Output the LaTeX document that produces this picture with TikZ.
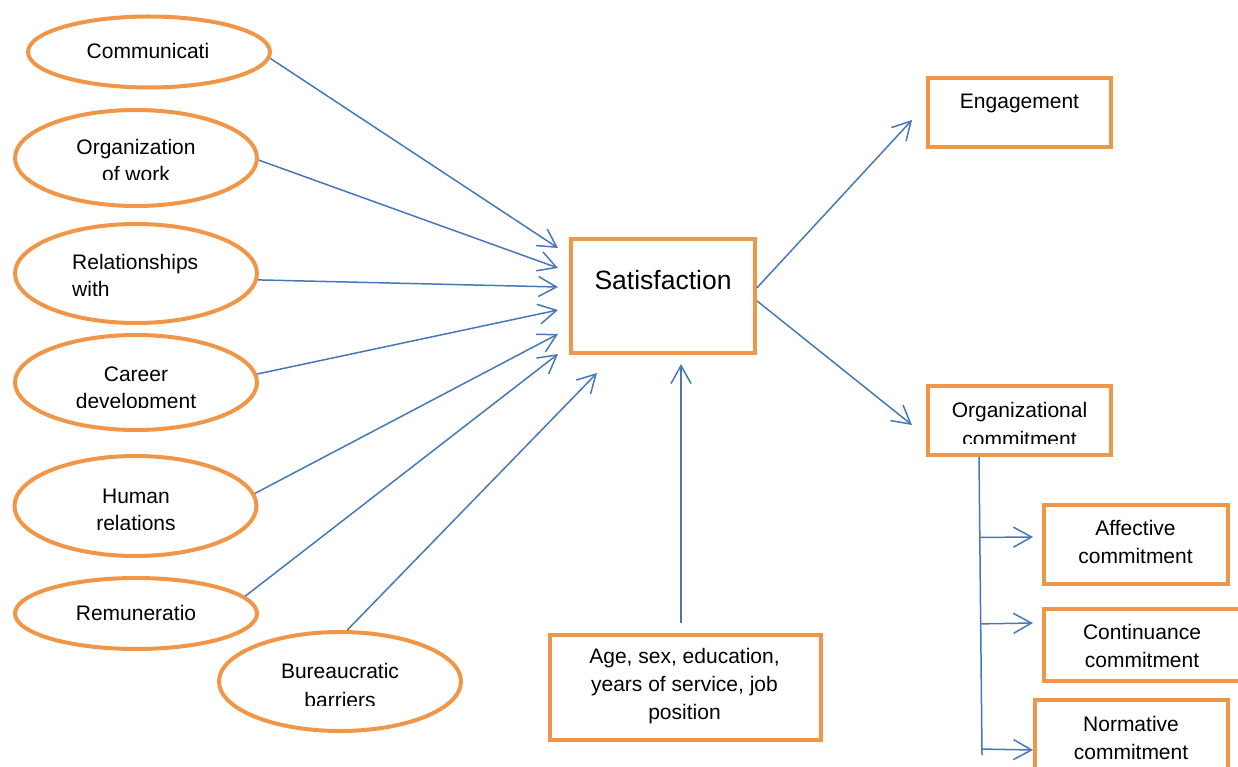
\documentclass[tikz,border=0pt]{standalone}
\usepackage{fontspec}
\setmainfont{Liberation Sans}
\usetikzlibrary{shapes.geometric,arrows.meta,calc}
\definecolor{orng}{RGB}{240,150,72}
\definecolor{blu}{RGB}{70,120,185}
\tikzset{
 oval/.style={ellipse, draw=orng, line width=4pt, inner sep=0pt},
 box/.style={rectangle, draw=orng, line width=4pt, inner sep=0pt, fill=white},
 lbl/.style={anchor=base, inner sep=0pt, font=\fontsize{21}{27}\selectfont},
 conn/.style={draw=blu, line width=1.5pt, -{Straight Barb[length=18pt,width=20pt]}},
 trunk/.style={draw=blu, line width=1.5pt}
}
\begin{document}
\begin{tikzpicture}[x=1pt,y=-1pt]
\useasboundingbox (0,0) rectangle (1238,767);
% ellipses
\node[oval, minimum width=242, minimum height=71] (e1) at (149,52) {};
\node[oval, minimum width=242, minimum height=96] (e2) at (136,158) {};
\node[oval, minimum width=242, minimum height=99] (e3) at (136,273.5) {};
\node[oval, minimum width=242, minimum height=95] (e4) at (136,382.5) {};
\node[oval, minimum width=242, minimum height=100] (e5) at (135.5,506) {};
\node[oval, minimum width=242, minimum height=71] (e6) at (136,613.5) {};
\node[oval, minimum width=242, minimum height=99] (e7) at (340,681.5) {};
% boxes
\node[box, minimum width=184, minimum height=114] (sat) at (663,296) {};
\node[box, minimum width=183, minimum height=69] (eng) at (1019.5,112.5) {};
\node[box, minimum width=183, minimum height=69] (org) at (1019.5,420.5) {};
\node[box, minimum width=184, minimum height=79] (aff) at (1136,544.5) {};
\node[box, minimum width=201, minimum height=72] (con) at (1144.5,645) {};
\node[box, minimum width=193, minimum height=80] (nor) at (1131.5,740) {};
\node[box, minimum width=271, minimum height=105] (age) at (685.5,687.5) {};
% ellipse texts
\node[lbl] (t1) at (148,59) {Communicati};
\node[lbl] (t2a) at (136,155) {Organization};
\begin{scope}\clip (0,0) rectangle (300,180);
\node[lbl] (t2b) at (136,182) {of work};
\end{scope}
\node[lbl, anchor=base west] (t3a) at (72,269) {Relationships};
\node[lbl, anchor=base west] (t3b) at (72,296) {with};
\node[lbl] (t4a) at (136,381) {Career};
\begin{scope}\clip (0,300) rectangle (300,407);
\node[lbl] (t4b) at (136,408) {development};
\end{scope}
\node[lbl] (t5a) at (136,503) {Human};
\begin{scope}\clip (0,450) rectangle (300,529);
\node[lbl] (t5b) at (136,530) {relations};
\end{scope}
\node[lbl] (t6) at (136,620) {Remuneratio};
\node[lbl] (t7a) at (340,678) {Bureaucratic};
\begin{scope}\clip (200,640) rectangle (480,705.5);
\node[lbl] (t7b) at (340,707) {barriers};
\end{scope}
% box texts
\node[lbl, font=\fontsize{26.5}{32}\selectfont] (ts) at (663,289) {Satisfaction};
\node[lbl] (te) at (1019.5,109) {Engagement};
\node[lbl] (to1) at (1019.5,417) {Organizational};
\begin{scope}\clip (900,380) rectangle (1120,443);
\node[lbl] (to2) at (1019.5,446) {commitment};
\end{scope}
\node[lbl] (ta1) at (1135.5,535) {Affective};
\node[lbl] (ta2) at (1135.5,563) {commitment};
\node[lbl] (tc1) at (1142,639) {Continuance};
\node[lbl] (tc2) at (1142,667) {commitment};
\node[lbl] (tn1) at (1131,731) {Normative};
\node[lbl] (tn2) at (1131,759) {commitment};
\node[lbl] (tg1) at (684.5,663) {Age, sex, education,};
\node[lbl] (tg2) at (684.5,691) {years of service, job};
\node[lbl] (tg3) at (684.5,719) {position};
% arrow tips
\coordinate (s1) at (558,248);
\coordinate (s2) at (558,268);
\coordinate (s3) at (558,287);
\coordinate (s4) at (558,310);
\coordinate (s5) at (558,334);
\coordinate (s6) at (558,354);
\coordinate (s7) at (597,373);
\coordinate (s8) at (681,364);
\coordinate (r1) at (912,120);
\coordinate (r2) at (912,425);
\coordinate (b1) at (1033,537);
\coordinate (b2) at (1033,623);
\coordinate (b3) at (1033,750);
\coordinate (vb) at (982,755);
\path (org.south west) ++(53,0) coordinate (vt);
% connectors
\draw[conn] (e1.-3) -- (s1);
\draw[conn] (e2.-1) -- (s2);
\draw[conn] (e3.-3.7) -- (s3);
\draw[conn] (e4.4.7) -- (s4);
\draw[conn] (e5.6.5) -- (s5);
\draw[conn] (e6.9) -- (s6);
\draw[conn] (e7.82) -- (s7);
\draw[conn, shorten <=10pt] (age.north -| s8) -- (s8);
\draw[conn] (sat.5.5) -- (r1);
\draw[conn] (sat.-3.6) -- (r2);
\draw[trunk] (vt) -- (vb);
\draw[conn] ($(vt)!0.27!(vb)$) -- (b1);
\draw[conn] ($(vt)!0.56!(vb)$) -- (b2);
\draw[conn] ($(vt)!0.98!(vb)$) -- (b3);
\end{tikzpicture}
\end{document}
